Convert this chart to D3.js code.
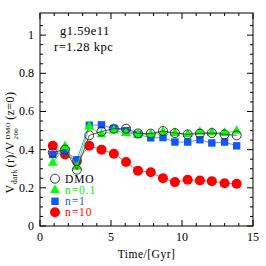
<!DOCTYPE html>
<html>
<head>
<meta charset="utf-8">
<script src="https://cdn.jsdelivr.net/npm/d3@7"></script>
<style>
  body { margin: 0; background: #fff; }
  svg text { font-family: "Liberation Serif", "DejaVu Serif", serif; }
</style>
</head>
<body>
<div id="chart"></div>
<script>
// times of the snapshots [Gyr]
const times = [0.9, 1.76, 2.6, 3.47, 4.33, 5.2, 6.06, 6.9, 7.8, 8.66, 9.5, 10.4, 11.26, 12.1, 13.0, 13.85];
const dmo   = [0.385, 0.40, 0.295, 0.475, 0.495, 0.51, 0.51, 0.485, 0.484, 0.498, 0.487, 0.48, 0.484, 0.487, 0.48, 0.475];
const n01   = [0.33, 0.417, 0.31, 0.52, 0.48, 0.50, 0.487, 0.48, 0.48, 0.493, 0.487, 0.48, 0.493, 0.49, 0.487, 0.498];
const n1    = [0.375, 0.39, 0.347, 0.528, 0.53, 0.51, 0.50, 0.48, 0.462, 0.463, 0.44, 0.44, 0.452, 0.435, 0.44, 0.42];
const n10   = [0.42, 0.375, 0.34, 0.42, 0.40, 0.379, 0.335, 0.29, 0.282, 0.25, 0.23, 0.242, 0.238, 0.235, 0.224, 0.221];

const xTicks = [0, 5, 10, 15];
const yTicks = [0, 0.2, 0.4, 0.6, 0.8, 1];

const W = 266, H = 266;
const margin = {top: 13, right: 13, bottom: 40, left: 40};
const width = W - margin.left - margin.right;
const height = H - margin.top - margin.bottom;

const svg = d3.select("#chart").append("svg")
    .attr("width", W)
    .attr("height", H);

const g = svg.append("g")
    .attr("transform", `translate(${margin.left},${margin.top})`);

const x = d3.scaleLinear().domain([0, 15]).range([0, width]);
const y = d3.scaleLinear().domain([0, 1.116]).range([height, 0]);

// frame
g.append("rect")
    .attr("width", width).attr("height", height)
    .attr("fill", "none").attr("stroke", "#000").attr("stroke-width", 1);

// inward ticks on all four sides
const xMinor = d3.range(0, 15.01, 1);
const yMinor = d3.range(0, 1.1, 0.05);
function tickLen(v, step) { return Math.abs(v / step - Math.round(v / step)) < 1e-6 ? 6 : 3; }

xMinor.forEach(v => {
    let l = tickLen(v, 5);
    g.append("line").attr("x1", x(v)).attr("x2", x(v)).attr("y1", height).attr("y2", height - l).attr("stroke", "#000");
    g.append("line").attr("x1", x(v)).attr("x2", x(v)).attr("y1", 0).attr("y2", l).attr("stroke", "#000");
});
yMinor.forEach(v => {
    let l = tickLen(v, 0.2);
    g.append("line").attr("y1", y(v)).attr("y2", y(v)).attr("x1", 0).attr("x2", l).attr("stroke", "#000");
    g.append("line").attr("y1", y(v)).attr("y2", y(v)).attr("x1", width).attr("x2", width - l).attr("stroke", "#000");
});

// tick labels
g.selectAll(".xl").data(xTicks).enter().append("text")
    .attr("x", d => x(d)).attr("y", height + 15)
    .attr("text-anchor", "middle").attr("font-size", 12).text(d => d);
g.selectAll(".yl").data(yTicks).enter().append("text")
    .attr("x", -6).attr("y", d => y(d) + 4)
    .attr("text-anchor", "end").attr("font-size", 12).text(d => d);

// axis titles
g.append("text")
    .attr("x", width / 2).attr("y", height + 32)
    .attr("text-anchor", "middle").attr("font-size", 11.5)
    .attr("letter-spacing", 0.5)
    .text("Time/[Gyr]");

// y label built piece by piece (stacked super/subscript)
const yl = svg.append("g")
    .attr("transform", `translate(14,${margin.top + height / 2 + 74}) rotate(-90)`);
let cx = 0;
function piece(str, size, dy) {
    const t = yl.append("text").attr("x", cx).attr("y", dy).attr("font-size", size)
        .attr("letter-spacing", 0.4).text(str);
    return t.node().getComputedTextLength() + 0.4 * str.length;
}
cx += piece("V", 12, 0);
cx += piece("dark", 7.5, 3);
cx += piece("(r)/V", 12, 0);
const wSup = piece("DMO", 7, -4.5);
const wSub = piece("200", 7, 4);
cx += Math.max(wSup, wSub) + 1;
cx += piece("(z=0)", 12, 0);

// annotations
g.append("text").attr("x", 20).attr("y", 22).attr("font-size", 12.5)
    .attr("letter-spacing", 0.5).text("g1.59e11");
g.append("text").attr("x", 14).attr("y", 38).attr("font-size", 12.5)
    .attr("letter-spacing", 0.5).text("r=1.28 kpc");

const series = [
    {name: "DMO",   vals: dmo, line: "#444", mark: "open", text: "#000"},
    {name: "n=0.1", vals: n01, line: "#33dd33", mark: "tri", fill: "#00ff00", text: "#00ee00"},
    {name: "n=1",   vals: n1,  line: "#5588ff", mark: "sq", fill: "#1155ff", text: "#1155ff"},
    {name: "n=10",  vals: n10, line: "#ff5555", mark: "circ", fill: "#ff0000", text: "#ff0000"}
];

const line = d3.line().x(d => x(d[0])).y(d => y(d[1]));

function drawMark(sel, s) {
    if (s.mark === "open") {
        sel.append("circle").attr("r", 4.5).attr("fill", "none").attr("stroke", "#222").attr("stroke-width", 0.9);
    } else if (s.mark === "circ") {
        sel.append("circle").attr("r", 5).attr("fill", s.fill);
    } else if (s.mark === "sq") {
        sel.append("rect").attr("x", -3.7).attr("y", -3.7).attr("width", 7.4).attr("height", 7.4).attr("fill", s.fill);
    } else {
        sel.append("path").attr("d", d3.symbol(d3.symbolTriangle, 42)()).attr("fill", s.fill);
    }
}

// draw from back (n=10) to front (DMO)
series.slice().reverse().forEach(s => {
    const pts = times.map((t, i) => [t, s.vals[i]]);
    g.append("path").datum(pts).attr("d", line)
        .attr("fill", "none").attr("stroke", s.line).attr("stroke-width", 0.9);
    g.selectAll(null).data(pts).enter().append("g")
        .attr("transform", d => `translate(${x(d[0])},${y(d[1])})`)
        .each(function () { drawMark(d3.select(this), s); });
});

// legend
const legY = [178.7, 190.2, 201.3, 212.3];
series.forEach((s, i) => {
    const lg = svg.append("g").attr("transform", `translate(55,${legY[i]})`);
    drawMark(lg, s);
    lg.append("text").attr("x", 10).attr("y", 3.8).attr("font-size", 11.5)
        .attr("letter-spacing", 0.9)
        .attr("fill", s.text).text(s.name);
});
</script>
</body>
</html>
